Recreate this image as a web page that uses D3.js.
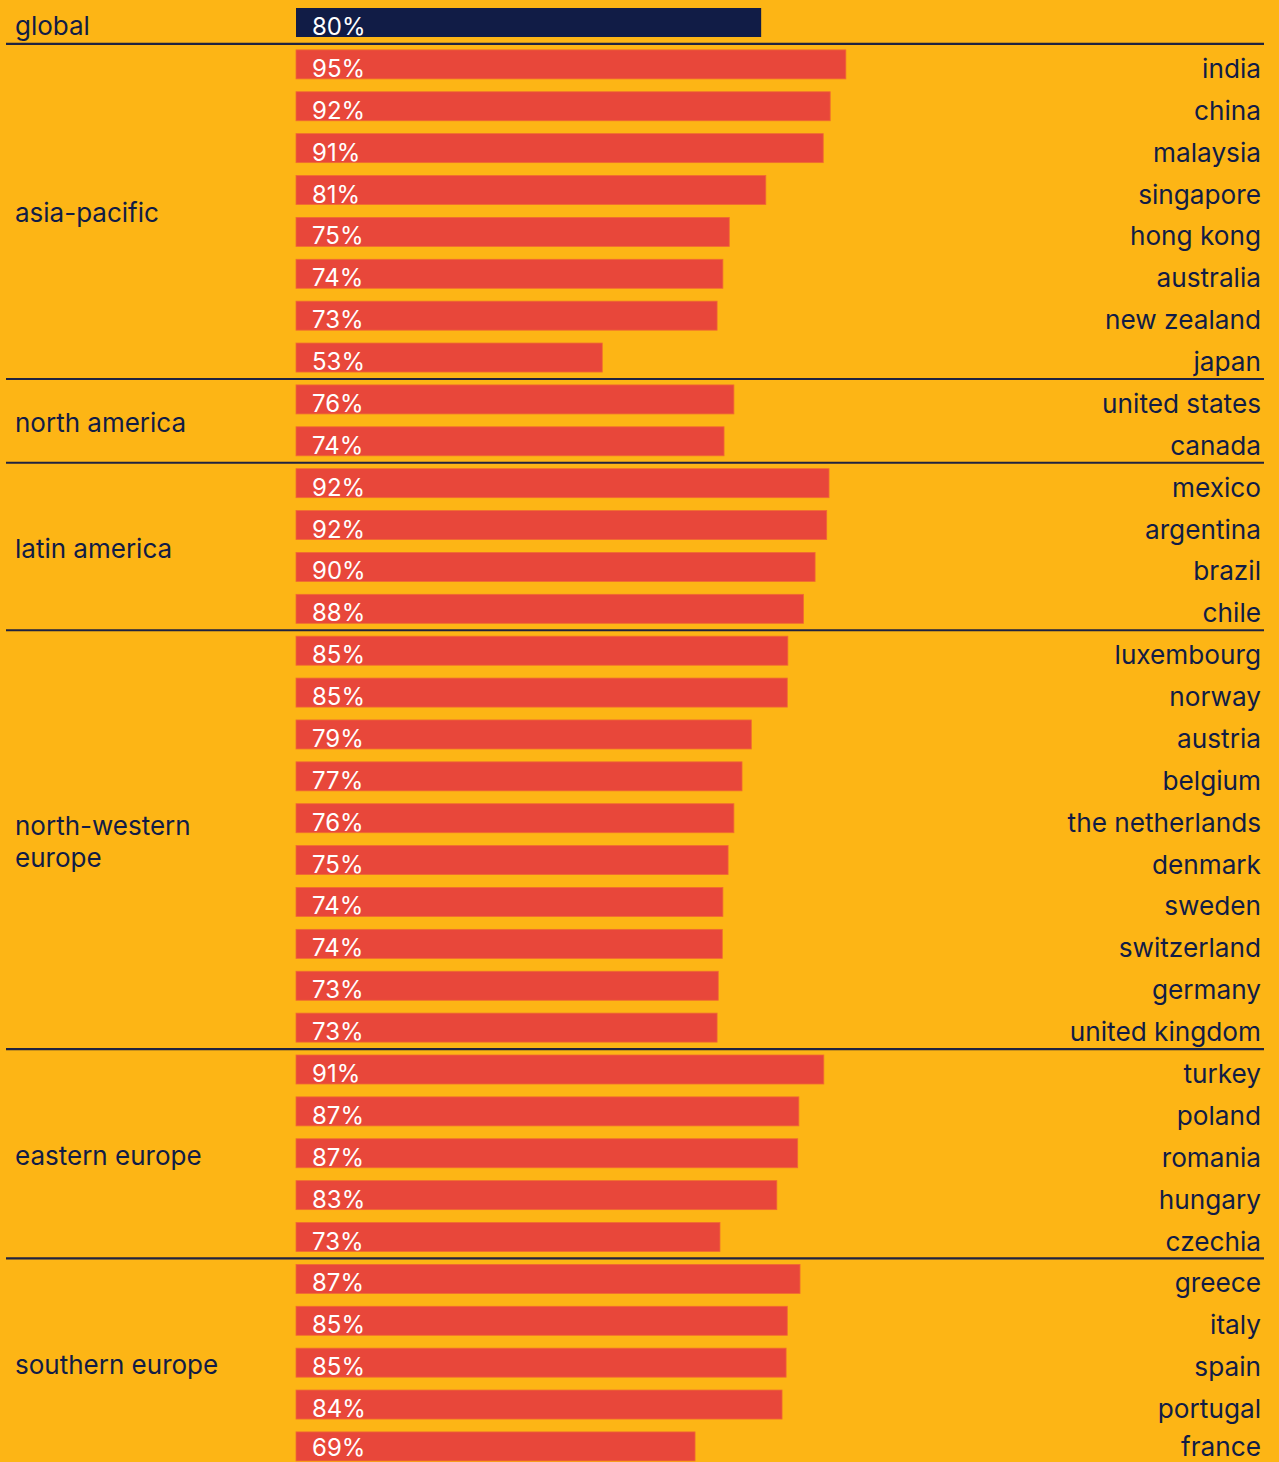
<!DOCTYPE html>
<html><head><meta charset="utf-8">
<script src="https://cdn.jsdelivr.net/npm/d3@7"></script>
<style>
html,body{margin:0;padding:0;background:#FDB515;}
svg{display:block;}
text{font-family:Inter,"Open Sans",sans-serif;}
</style></head>
<body>
<svg id="chart" width="1279" height="1462"></svg>
<script>
const regions = ["global","asia-pacific","north america","latin america","north-western europe","eastern europe","southern europe"];
const regionCounts = [1,8,2,4,10,5,5];
const countries = ["","india","china","malaysia","singapore","hong kong","australia","new zealand","japan",
  "united states","canada",
  "mexico","argentina","brazil","chile",
  "luxembourg","norway","austria","belgium","the netherlands","denmark","sweden","switzerland","germany","united kingdom",
  "turkey","poland","romania","hungary","czechia",
  "greece","italy","spain","portugal","france"];
const values = [80.2,94.8,92.1,90.9,81.0,74.7,73.6,72.6,52.8,
  75.5,73.8,
  91.9,91.5,89.5,87.5,
  84.8,84.7,78.5,76.9,75.5,74.5,73.6,73.5,72.8,72.6,
  91.0,86.7,86.5,82.9,73.1,
  86.9,84.7,84.5,83.8,68.8];

const bg="#FDB515", red="#E8473A", navy="#111C46", line="#1F2340";
const svg = d3.select("#chart");
svg.append("rect").attr("width",1279).attr("height",1462).attr("fill",bg);

const idx = d3.range(countries.length);
const step = 41.88, bw = 29;
const y = d3.scaleBand().domain(idx).range([8, 8 + (countries.length-1)*step + bw])
  .paddingInner((step-bw)/step).paddingOuter(0);
const x = d3.scaleLinear().domain([0,100]).range([296, 876]);
const maxBase = 1456;

// bars
svg.selectAll("rect.bar").data(idx).join("rect").attr("class","bar")
  .attr("x", x(0)).attr("y", i=>y(i)).attr("height", y.bandwidth())
  .attr("width", i=>x(values[i])-x(0))
  .attr("fill", i=> i===0 ? navy : red)
  .attr("stroke", i=> i===0 ? "none" : "#F06A32").attr("stroke-width",0.8);

// percent labels
svg.selectAll("text.pct").data(idx).join("text").attr("class","pct")
  .attr("x", 312).attr("y", i=>Math.min(maxBase, y(i)+y.bandwidth()-2))
  .attr("fill","#fff").attr("font-size",24)
  .text(i=>Math.round(values[i])+"%");

// country labels
svg.selectAll("text.cty").data(idx.filter(i=>countries[i])).join("text").attr("class","cty")
  .attr("x", 1261).attr("y", i=>Math.min(maxBase, y(i)+y.bandwidth()-1))
  .attr("text-anchor","end").attr("fill",navy).attr("font-size",26.2)
  .text(i=>countries[i]);

// regions & separators
let start = 0;
regions.forEach((r,k)=>{
  const n = regionCounts[k];
  const top = y(start), bot = y(start+n-1)+y.bandwidth();
  const cy = (top+bot)/2;
  const words = r==="north-western europe" ? ["north-western","europe"] : [r];
  const t = svg.append("text").attr("fill",navy).attr("font-size",26).attr("x",15);
  words.forEach((w,j)=>{
    t.append("tspan").attr("x",15)
     .attr("y", k===0 ? y(0)+y.bandwidth()-2 : cy + 11.5 + (j-(words.length-1)/2)*32)
     .text(w);
  });
  if (k < regions.length-1) {
    const ly = bot + (step-bw)/2 + 0.5;
    svg.append("line").attr("x1",6).attr("x2",1264).attr("y1",ly).attr("y2",ly)
      .attr("stroke",line).attr("stroke-width",2.2);
  }
  start += n;
});
</script>
</body></html>
